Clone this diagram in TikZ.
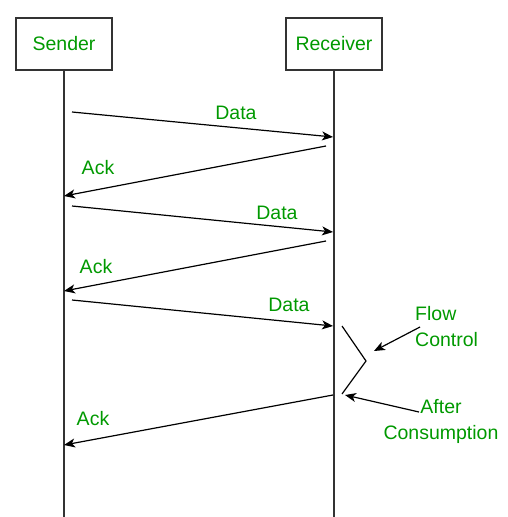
\documentclass[tikz,border=0pt]{standalone}
\usepackage{fontspec}
\setmainfont{Liberation Sans}
\usetikzlibrary{arrows.meta}
\definecolor{lbl}{RGB}{0,153,0}
\begin{document}
\begin{tikzpicture}[x=1pt,y=-1pt,
  actor/.style={draw=black!80,line width=1.3pt,minimum width=96pt,minimum height=52pt,inner sep=0pt,text=lbl,font=\fontsize{19.5}{22}\selectfont},
  life/.style={draw=black!80,line width=1.3pt},
  msg/.style={draw=black,line width=1.2pt,-{Stealth[length=11pt,width=9pt,inset=3pt]}},
  zig/.style={draw=black,line width=1.2pt},
  lbltext/.style={text=lbl,font=\fontsize{19.5}{22}\selectfont,inner sep=0pt},
  note/.style={text=lbl,font=\fontsize{19.5}{26}\selectfont,inner sep=0pt,align=center}]
\useasboundingbox (0,0) rectangle (507,517);
% actors
\node[actor] (snd) at (64,44) {Sender};
\node[actor] (rcv) at (334,44) {Receiver};
\coordinate (sbot) at (64,517);
\coordinate (rbot) at (334,517);
\draw[life] (snd.south) -- (sbot);
\draw[life] (rcv.south) -- (rbot);
% message endpoints
\coordinate (d1s) at (72,112);  \coordinate (d1e) at (333,137);
\coordinate (a1s) at (326,146); \coordinate (a1e) at (64,196);
\coordinate (d2s) at (72,206);  \coordinate (d2e) at (333,232);
\coordinate (a2s) at (326,241); \coordinate (a2e) at (64,291);
\coordinate (d3s) at (72,300);  \coordinate (d3e) at (333,326);
\coordinate (a3s) at (333,395); \coordinate (a3e) at (64,445);
\coordinate (z1) at (342,326); \coordinate (z2) at (366,361); \coordinate (z3) at (342,394);
% messages
\draw[msg] (d1s) -- (d1e);
\draw[msg] (a1s) -- (a1e);
\draw[msg] (d2s) -- (d2e);
\draw[msg] (a2s) -- (a2e);
\draw[msg] (d3s) -- (d3e);
\draw[msg] (a3s) -- (a3e);
% labels
\node[lbltext] (ld1) at (236,113) {Data};
\node[lbltext] (la1) at (98,168) {Ack};
\node[lbltext] (ld2) at (277,213) {Data};
\node[lbltext] (la2) at (96,267) {Ack};
\node[lbltext] (ld3) at (289,305) {Data};
\node[lbltext] (la3) at (93,419) {Ack};
% flow control bracket
\draw[zig] (z1) -- (z2) -- (z3);
\node[note,align=left,anchor=west] (fc) at (415,327) {Flow\\Control};
\node[note] (ac) at (441,421) {After\\Consumption};
\coordinate (fcs) at (420,327);
\coordinate (fce) at (374,351);
\coordinate (acs) at (419,412);
\coordinate (ace) at (345,395);
\draw[msg] (fcs) -- (fce);
\draw[msg] (acs) -- (ace);
\end{tikzpicture}
\end{document}
